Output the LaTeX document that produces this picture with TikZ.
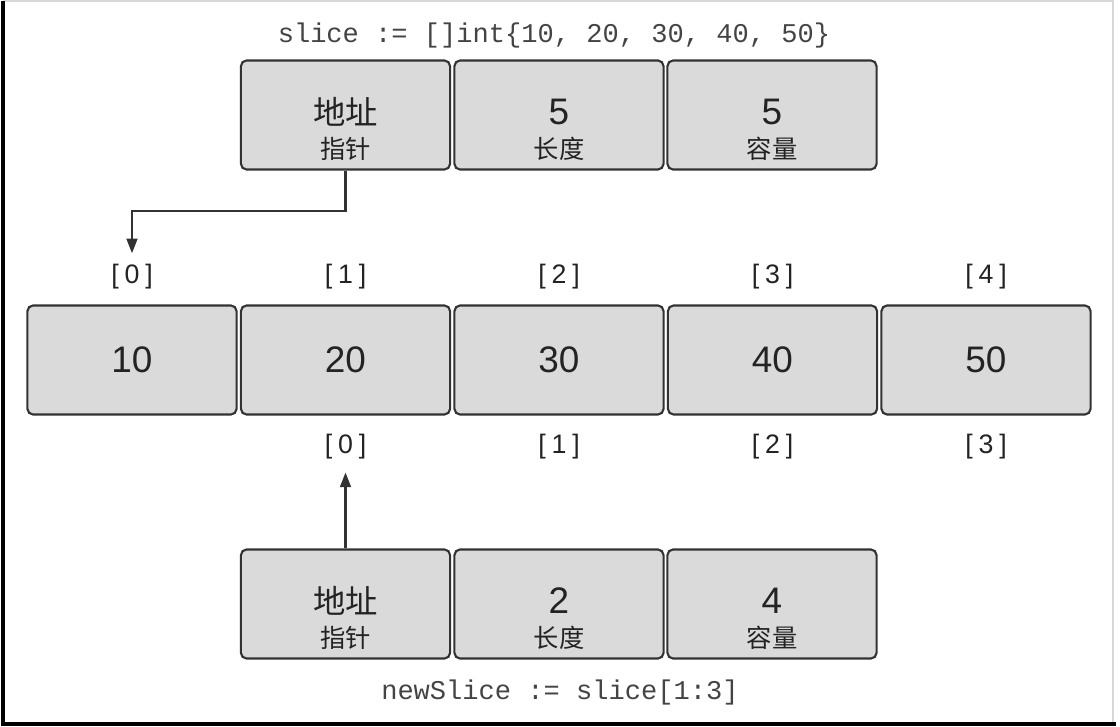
\documentclass[tikz,border=0pt]{standalone}
\usepackage{fontspec}
\setmainfont{Liberation Sans}
\setmonofont{Liberation Mono}
\newfontfamily\cjk{Noto Sans CJK SC}
\usetikzlibrary{arrows.meta}

\definecolor{cellgray}{RGB}{218,218,218}
\definecolor{edgegray}{RGB}{50,50,50}
\definecolor{inkgray}{RGB}{35,35,35}
\definecolor{framegray}{RGB}{215,215,215}

\newcommand{\bignum}{\fontsize{10.5}{12}\selectfont}
\newcommand{\bigcjk}{\cjk\fontsize{9.2}{11}\selectfont}
\newcommand{\smallcjk}{\cjk\fontsize{7.2}{9}\selectfont}
\newcommand{\idxlabel}[1]{[\hspace{0.22em}#1\hspace{0.22em}]}
\newcommand{\twoline}[2]{\rule{0pt}{15.5pt}#1\\[-2.2pt]{\smallcjk #2}}

\tikzset{
  cell/.style={draw=edgegray, fill=cellgray, line width=0.6pt, rounded corners=1.6pt,
    minimum width=2.09cm, minimum height=1.09cm, inner sep=0pt, align=center, text=inkgray},
  idx/.style={text=inkgray, font=\fontsize{7.6}{9}\selectfont, inner sep=1pt},
  code/.style={text=inkgray!85, font=\ttfamily\fontsize{7.7}{9}\selectfont},
  ptr/.style={draw=edgegray, line width=0.6pt, -{Triangle[length=4.2pt,width=3.1pt]}}
}

\begin{document}
\begin{tikzpicture}[x=0.01cm,y=-0.01cm]
\useasboundingbox (0,0) rectangle (1120,727);
% frame
\draw[framegray, line width=0.6pt] (3,1) -- (1113,1) -- (1113,724);
\draw[black, line width=1.2pt] (3,1) -- (3,724) -- (1116,724);

% slice header
\node[code] (sdecl) at (554,35) {slice := []int\{10, 20, 30, 40, 50\}};
\node[cell] (sptr) at (345.5,115) {\twoline{\bigcjk 地址}{指针}};
\node[cell] (slen) at (559,115) {\twoline{\bignum 5}{长度}};
\node[cell] (scap) at (772,115) {\twoline{\bignum 5}{容量}};

% underlying array
\foreach \v [count=\i from 0] in {10,20,30,40,50} {
  \node[cell, font=\bignum] (arr\i) at ({132+213.5*\i},360) {\v};
  \node[idx] (top\i) at ({132+213.5*\i},277) {\idxlabel{\i}};
}
\foreach \i in {0,...,3} {
  \node[idx] (bot\i) at ({345.5+213.5*\i},447) {\idxlabel{\i}};
}

% newSlice header
\node[cell] (nptr) at (345.5,604) {\twoline{\bigcjk 地址}{指针}};
\node[cell] (nlen) at (559,604) {\twoline{\bignum 2}{长度}};
\node[cell] (ncap) at (772,604) {\twoline{\bignum 4}{容量}};
\node[code] (ndecl) at (560,692) {newSlice := slice[1:3]};

% pointers
\draw[ptr] (sptr.south) -- ++(0,40) -| ([yshift=2pt]top0.north);
\draw[ptr] (nptr.north) -- ([yshift=-2.5pt]bot0.south);
\end{tikzpicture}
\end{document}
